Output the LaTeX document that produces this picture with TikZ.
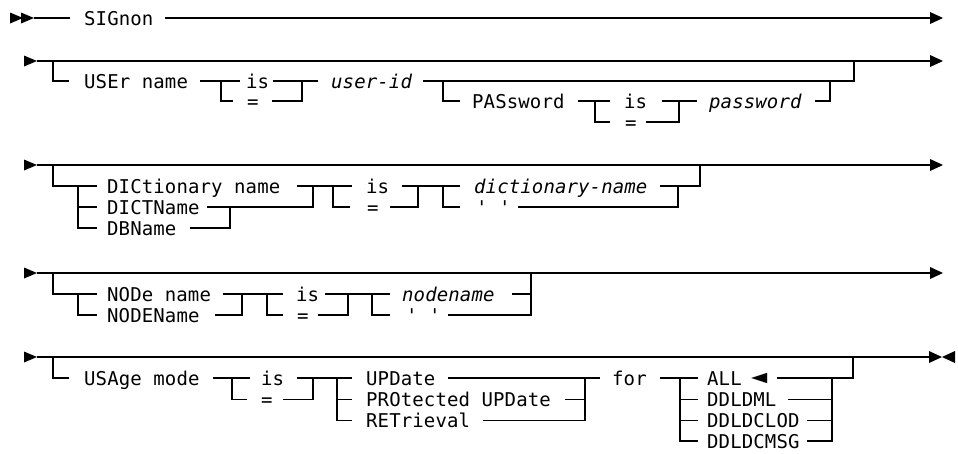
\documentclass[tikz,border=0pt]{standalone}
\usepackage{fontspec}
\newfontfamily\railfont{DejaVu Sans Mono}[LetterSpace=0.6]
\begin{document}
\begin{tikzpicture}[x=1pt,y=-1pt,
  rail/.style={line width=1.5pt, line join=miter},
  kw/.style={anchor=base west, inner sep=0pt, font=\railfont\fontsize{19}{22}\selectfont},
  var/.style={anchor=base west, inner sep=0pt, font=\railfont\itshape\fontsize{19}{22}\selectfont},
  deflt/.style={anchor=base west, inner sep=0pt, font=\railfont\fontsize{27}{27}\selectfont},
  pics/inarrow/.style={code={\fill (-13,-5.5) -- (-13,5.5) -- (0,0) -- cycle;}},
  pics/outarrow/.style={code={\fill (-13,-6) -- (-13,6) -- (0,0) -- cycle;}},
  pics/backarrow/.style={code={\fill (13,-6) -- (13,6) -- (0,0) -- cycle;}}]
\useasboundingbox (0,0) rectangle (958,453);
\fill[white] (0,0) rectangle (958,453);

% ---- statement start: SIGnon
\pic at (23,18) {inarrow};
\pic at (34,18) {inarrow};
\draw[rail] (34,18) -- (70,18);
\node[kw] (sig) at (84,25.5) {SIGnon};
\draw[rail] (165,18) -- (930,18);
\pic at (943,18) {outarrow};

% ---- USEr name / PASsword
\pic at (37,61) {inarrow};
\draw[rail] (37,61) -- (930,61);
\pic at (943,61) {outarrow};
\draw[rail] (53,61) |- (69,81);
\node[kw] (user) at (84,88.5) {USEr name};
\draw[rail] (200,81) -- (240,81);
\draw[rail] (221,81) |- (233,101);
\node[kw] (uis) at (246,88.5) {is};
\node[kw] (ueq) at (247,108.5) {=};
\draw[rail] (273,81) -- (318,81);
\draw[rail] (272,101) -| (302,81);
\node[var] (uid) at (331,88.5) {user-id};
\draw[rail] (423,81) -| (854,61);
\draw[rail] (443,81) |- (460,101);
\node[kw] (pass) at (472,108.5) {PASsword};
\draw[rail] (578,101) -- (610,101);
\draw[rail] (595,101) |- (610,122);
\node[kw] (pis) at (624,108.5) {is};
\node[kw] (peq) at (625,129.5) {=};
\draw[rail] (662,101) -- (697,101);
\draw[rail] (646,122) -| (679,101);
\node[var] (pwd) at (709,108.5) {password};
\draw[rail] (815,101) -| (830,81);

% ---- DICtionary name
\pic at (37,165) {inarrow};
\draw[rail] (37,165) -- (930,165);
\pic at (943,165) {outarrow};
\draw[rail] (53,165) |- (97,186);
\draw[rail] (78,186) |- (97,228);
\draw[rail] (78,207) -- (97,207);
\node[kw] (dic) at (107,193.5) {DICtionary name};
\node[kw] (dictn) at (107,214.5) {DICTName};
\node[kw] (dbn) at (107,235.5) {DBName};
\draw[rail] (297,186) -- (352,186);
\draw[rail] (207,207) -| (313,186);
\draw[rail] (190,228) -| (230,207);
\draw[rail] (333,186) |- (350,207);
\node[kw] (dis) at (366,193.5) {is};
\node[kw] (deq) at (367,214.5) {=};
\draw[rail] (402,186) -- (460,186);
\draw[rail] (390,207) -| (418,186);
\draw[rail] (443,186) |- (460,207);
\node[var] (dname) at (474,193.5) {dictionary-name};
\node[kw] (dblank) at (476,214.5) {' '};
\draw[rail] (660,186) -| (700,165);
\draw[rail] (518,207) -| (678,186);

% ---- NODe name
\pic at (37,273) {inarrow};
\draw[rail] (37,273) -- (930,273);
\pic at (943,273) {outarrow};
\draw[rail] (53,273) |- (97,294);
\draw[rail] (78,294) |- (97,315);
\node[kw] (nod) at (107,301.5) {NODe name};
\node[kw] (noden) at (107,322.5) {NODEName};
\draw[rail] (223,294) -- (283,294);
\draw[rail] (215,315) -| (242,294);
\draw[rail] (267,294) |- (283,315);
\node[kw] (nis) at (296,301.5) {is};
\node[kw] (neq) at (297,322.5) {=};
\draw[rail] (325,294) -- (390,294);
\draw[rail] (318,315) -| (348,294);
\draw[rail] (372,294) |- (390,315);
\node[var] (nname) at (402,301.5) {nodename};
\node[kw] (nblank) at (406,322.5) {' '};
\draw[rail] (512,294) -| (531,273);
\draw[rail] (448,315) -| (531,294);

% ---- USAge mode
\pic at (37,357) {inarrow};
\draw[rail] (37,357) -- (930,357);
\pic at (942,357) {outarrow};
\pic at (942,357) {backarrow};
\draw[rail] (53,357) |- (69,378);
\node[kw] (usage) at (84,385) {USAge mode};
\draw[rail] (213,378) -- (250,378);
\draw[rail] (232,378) |- (247,399.5);
\node[kw] (mis) at (261,385) {is};
\node[kw] (meq) at (261,406.5) {=};
\draw[rail] (297,378) -- (352,378);
\draw[rail] (283,399.5) -| (313,378);
\draw[rail] (337,378) |- (352,420.5);
\draw[rail] (337,399.5) -- (352,399.5);
\node[kw] (upd) at (366,385) {UPDate};
\node[kw] (prot) at (366,406.5) {PROtected UPDate};
\node[kw] (ret) at (366,427.5) {RETrieval};
\draw[rail] (448,378) -- (600,378);
\draw[rail] (565,399.5) -- (585,399.5);
\draw[rail] (483,420.5) -| (585,378);
\node[kw] (for) at (612,385) {for};
\draw[rail] (660,378) -- (698,378);
\draw[rail] (680,378) |- (698,441);
\draw[rail] (680,399.5) -- (698,399.5);
\draw[rail] (680,420.5) -- (698,420.5);
\node[kw] (all) at (707,385) {ALL};
\node[deflt] (dflt) at (751,385.5) {◄};
\node[kw] (dml) at (707,406.5) {DDLDML};
\node[kw] (clod) at (707,427.5) {DDLDCLOD};
\node[kw] (msg) at (707,448) {DDLDCMSG};
\draw[rail] (777,378) -| (853,357);
\draw[rail] (788,399.5) -- (832,399.5);
\draw[rail] (807,420.5) -- (832,420.5);
\draw[rail] (807,441) -| (832,378);
\end{tikzpicture}
\end{document}
